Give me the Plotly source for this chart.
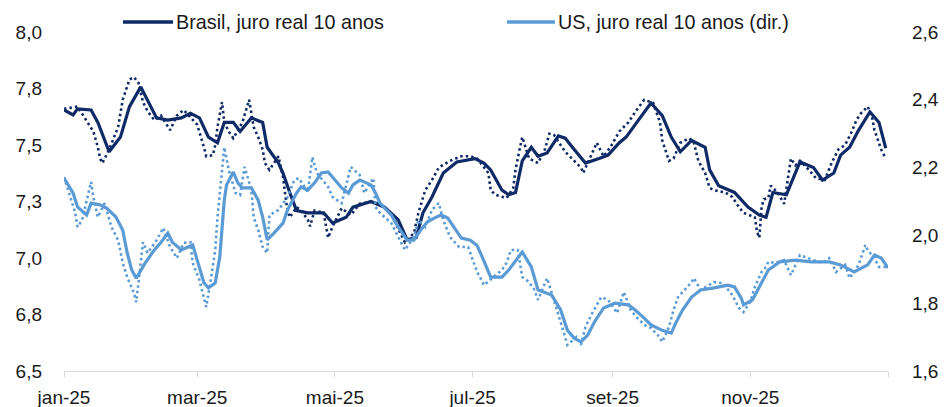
import pandas as pd
import plotly.graph_objects as go

# datas como dias corridos a partir de 01/01/2025
inicio = pd.Timestamp("2025-01-01")

# Brasil, juro real 10 anos - média (linha cheia)
br_media_dia = [0, 4, 6, 12, 15, 20, 25, 29, 34, 37, 41, 46, 52, 56, 60, 64, 68, 71, 75, 78,
                83, 88, 90, 95, 97, 100, 103, 108, 115, 119, 125, 128, 136, 142, 148, 152, 156, 159, 163, 168,
                174, 182, 186, 189, 194, 197, 200, 203, 207, 210, 214, 219, 222, 226, 231, 237, 241, 246, 249, 253,
                260, 265, 269, 273, 278, 284, 286, 290, 297, 303, 308, 311, 314, 320, 326, 332, 336, 341, 344, 348,
                352, 357, 361, 364]
br_media = [7.655, 7.633, 7.66, 7.655, 7.60, 7.47, 7.535, 7.67, 7.757, 7.70, 7.62, 7.61, 7.62, 7.64, 7.62, 7.535, 7.51, 7.60, 7.60, 7.56,
            7.62, 7.60, 7.49, 7.42, 7.376, 7.29, 7.21, 7.20, 7.20, 7.155, 7.18, 7.225, 7.25, 7.225, 7.17, 7.08, 7.09, 7.20, 7.27, 7.376,
            7.425, 7.44, 7.42, 7.39, 7.30, 7.28, 7.29, 7.43, 7.49, 7.45, 7.465, 7.54, 7.53, 7.48, 7.42, 7.44, 7.455, 7.51, 7.535, 7.59,
            7.686, 7.63, 7.535, 7.47, 7.52, 7.49, 7.39, 7.32, 7.29, 7.225, 7.19, 7.18, 7.29, 7.28, 7.425, 7.40, 7.345, 7.376, 7.455, 7.49,
            7.566, 7.646, 7.60, 7.486]

# Brasil - dado diário (pontilhado)
br_diario_dia = [0, 6, 13, 15, 16, 17, 20, 24, 26, 29, 31, 33, 35, 37, 40, 43, 47, 50, 53, 57,
                 59, 62, 63, 66, 67, 68, 70, 71, 73, 75, 77, 79, 82, 84, 86, 88, 89, 91, 95, 97,
                 98, 99, 100, 103, 105, 108, 109, 111, 115, 117, 119, 123, 127, 131, 137, 142, 146, 148, 151, 155,
                 157, 159, 160, 163, 166, 171, 176, 180, 183, 188, 189, 191, 196, 199, 200, 202, 203, 206, 210, 213,
                 215, 217, 222, 226, 229, 230, 234, 236, 239, 242, 246, 249, 250, 253, 257, 261, 264, 265, 268, 270,
                 273, 277, 279, 281, 284, 286, 288, 293, 296, 299, 301, 306, 307, 308, 309, 310, 312, 313, 316, 319,
                 321, 322, 324, 326, 330, 333, 337, 340, 343, 346, 349, 351, 353, 356, 358, 359, 362, 364]
br_diario = [7.66, 7.67, 7.56, 7.49, 7.44, 7.42, 7.48, 7.58, 7.70, 7.79, 7.80, 7.775, 7.69, 7.65, 7.61, 7.63, 7.566, 7.63, 7.655, 7.61,
             7.59, 7.49, 7.45, 7.455, 7.50, 7.58, 7.69, 7.60, 7.56, 7.53, 7.566, 7.60, 7.70, 7.58, 7.535, 7.48, 7.42, 7.39, 7.45, 7.36,
             7.28, 7.21, 7.18, 7.225, 7.21, 7.17, 7.14, 7.21, 7.20, 7.09, 7.14, 7.22, 7.19, 7.24, 7.25, 7.225, 7.18, 7.13, 7.07, 7.11,
             7.20, 7.26, 7.30, 7.345, 7.40, 7.43, 7.45, 7.45, 7.44, 7.376, 7.30, 7.28, 7.265, 7.31, 7.39, 7.49, 7.535, 7.44, 7.42, 7.48,
             7.55, 7.545, 7.47, 7.43, 7.40, 7.376, 7.465, 7.51, 7.45, 7.49, 7.56, 7.59, 7.60, 7.646, 7.70, 7.686, 7.60, 7.52, 7.43, 7.44,
             7.51, 7.53, 7.51, 7.43, 7.376, 7.31, 7.30, 7.29, 7.27, 7.225, 7.20, 7.18, 7.115, 7.09, 7.225, 7.26, 7.265, 7.32, 7.29, 7.24,
             7.38, 7.44, 7.41, 7.43, 7.39, 7.354, 7.345, 7.42, 7.48, 7.50, 7.56, 7.61, 7.64, 7.67, 7.62, 7.566, 7.48, 7.44]

# US, juro real 10 anos (eixo dir.) - média
us_media_dia = [0, 4, 6, 10, 12, 16, 19, 23, 26, 28, 30, 32, 36, 40, 43, 46, 48, 52, 55, 57,
                59, 62, 64, 67, 69, 71, 72, 75, 77, 79, 83, 86, 88, 90, 93, 97, 99, 103, 105, 108,
                111, 114, 117, 120, 123, 126, 128, 131, 136, 138, 140, 145, 148, 152, 155, 158, 161, 164, 167, 170,
                173, 176, 180, 183, 186, 189, 194, 197, 203, 207, 210, 216, 220, 223, 226, 229, 232, 235, 239, 244,
                250, 253, 257, 260, 265, 269, 271, 274, 278, 282, 288, 294, 297, 300, 301, 305, 308, 312, 317, 324,
                331, 339, 344, 350, 356, 359, 362, 365]
us_media = [2.169, 2.125, 2.084, 2.06, 2.095, 2.09, 2.08, 2.054, 2.016, 1.948, 1.898, 1.874, 1.919, 1.957, 1.98, 2.007, 1.98, 1.957, 1.966, 1.972,
            1.927, 1.86, 1.845, 1.86, 1.936, 2.104, 2.149, 2.187, 2.155, 2.14, 2.14, 2.104, 2.054, 1.987, 2.007, 2.036, 2.075, 2.125, 2.143, 2.134,
            2.155, 2.184, 2.187, 2.163, 2.14, 2.125, 2.149, 2.163, 2.149, 2.125, 2.095, 2.06, 2.025, 1.986, 1.986, 2.016, 2.04, 2.051, 2.06, 2.051,
            2.022, 1.992, 1.986, 1.970, 1.925, 1.877, 1.877, 1.898, 1.951, 1.907, 1.839, 1.824, 1.78, 1.72, 1.697, 1.686, 1.706, 1.745, 1.786, 1.80,
            1.795, 1.78, 1.756, 1.736, 1.72, 1.712, 1.742, 1.78, 1.818, 1.839, 1.845, 1.853, 1.848, 1.815, 1.795, 1.81, 1.848, 1.898, 1.922, 1.927,
            1.922, 1.922, 1.913, 1.892, 1.913, 1.942, 1.933, 1.904]

# US - dado diário
us_diario_dia = [0, 5, 6, 8, 12, 13, 15, 18, 21, 24, 26, 28, 31, 32, 34, 35, 37, 41, 44, 47,
                 50, 53, 56, 57, 60, 63, 65, 67, 68, 70, 71, 73, 76, 78, 80, 83, 84, 86, 88, 90,
                 91, 95, 97, 99, 102, 104, 108, 110, 112, 117, 119, 123, 127, 131, 133, 137, 138, 140, 145, 148,
                 151, 155, 157, 160, 163, 166, 168, 171, 175, 179, 181, 183, 185, 186, 189, 194, 196, 198, 201, 203,
                 205, 208, 210, 214, 217, 219, 221, 223, 227, 229, 231, 234, 238, 241, 245, 248, 251, 254, 257, 260,
                 263, 265, 268, 270, 272, 278, 279, 282, 288, 292, 296, 299, 301, 304, 306, 309, 311, 312, 315, 319,
                 322, 326, 332, 336, 339, 342, 346, 348, 352, 355, 356, 359, 361, 364]
us_diario = [2.172, 2.066, 2.025, 2.045, 2.158, 2.113, 2.054, 2.095, 2.025, 1.986, 1.919, 1.877, 1.83, 1.803, 1.919, 1.98, 1.948, 1.986, 2.022, 1.966,
             1.933, 1.978, 1.98, 1.919, 1.868, 1.789, 1.868, 1.957, 2.054, 2.184, 2.26, 2.193, 2.125, 2.119, 2.202, 2.134, 2.054, 2.016, 1.966, 1.948,
             2.06, 2.075, 2.095, 2.113, 2.163, 2.169, 2.128, 2.231, 2.184, 2.143, 2.113, 2.095, 2.202, 2.178, 2.125, 2.169, 2.084, 2.066, 2.036, 1.995,
             1.957, 1.995, 2.045, 2.025, 2.075, 2.095, 2.045, 1.995, 1.966, 1.966, 1.93, 1.892, 1.868, 1.853, 1.87, 1.898, 1.919, 1.957, 1.957, 1.877,
             1.868, 1.845, 1.81, 1.874, 1.81, 1.765, 1.72, 1.677, 1.70, 1.677, 1.73, 1.771, 1.818, 1.81, 1.771, 1.833, 1.78, 1.756, 1.736, 1.727,
             1.706, 1.686, 1.73, 1.78, 1.818, 1.862, 1.874, 1.839, 1.862, 1.859, 1.824, 1.786, 1.774, 1.804, 1.848, 1.892, 1.907, 1.922, 1.919, 1.927,
             1.883, 1.942, 1.927, 1.919, 1.933, 1.892, 1.913, 1.874, 1.913, 1.972, 1.957, 1.933, 1.907, 1.907]

# eixos
x_ticks = ["2025-01-01", "2025-03-01", "2025-05-01", "2025-07-01", "2025-09-01", "2025-11-01", "2026-01-01"]
x_labels = ["jan-25", "mar-25", "mai-25", "jul-25", "set-25", "nov-25", ""]
y_ticks = [6.5, 6.75, 7.0, 7.25, 7.5, 7.75, 8.0]
y_labels = ["6,5", "6,8", "7,0", "7,3", "7,5", "7,8", "8,0"]
y2_ticks = [1.6, 1.8, 2.0, 2.2, 2.4, 2.6]
y2_labels = ["1,6", "1,8", "2,0", "2,2", "2,4", "2,6"]

AZUL_ESCURO = "#0F2A66"
AZUL_CLARO = "#5B9BD5"
CINZA = "#D9D9D9"
TEXTO = "#1A1A1A"


def datas(dias):
    return inicio + pd.to_timedelta(dias, unit="D")


fig = go.Figure()
fig.add_trace(go.Scatter(x=datas(br_diario_dia), y=br_diario, mode="lines", yaxis="y",
                         line=dict(color=AZUL_ESCURO, width=2.6, dash="2.5px,3px")))
fig.add_trace(go.Scatter(x=datas(br_media_dia), y=br_media, mode="lines", yaxis="y",
                         line=dict(color=AZUL_ESCURO, width=3.2)))
fig.add_trace(go.Scatter(x=datas(us_diario_dia), y=us_diario, mode="lines", yaxis="y2",
                         line=dict(color=AZUL_CLARO, width=2.6, dash="2.5px,3px")))
fig.add_trace(go.Scatter(x=datas(us_media_dia), y=us_media, mode="lines", yaxis="y2",
                         line=dict(color=AZUL_CLARO, width=3.2)))

# legenda manual (linha + texto)
legenda = [
    (0.0716, 0.1323, AZUL_ESCURO, "Brasil, juro real 10 anos"),
    (0.5376, 0.5959, AZUL_CLARO, "US, juro real 10 anos (dir.)"),
]
for x0, x1, cor, nome in legenda:
    fig.add_shape(type="line", xref="paper", yref="paper", x0=x0, x1=x1, y0=1.0295, y1=1.0295,
                  line=dict(color=cor, width=3.5))
    fig.add_annotation(xref="paper", yref="paper", x=x1 + 0.001, y=1.0295, text=nome,
                       showarrow=False, xanchor="left", yanchor="middle",
                       font=dict(size=19.8, color=TEXTO))

fig.update_layout(
    width=944, height=407,
    margin=dict(l=64, r=56, t=32, b=36, autoexpand=False),
    plot_bgcolor="white", paper_bgcolor="white",
    font=dict(family="Liberation Sans, Arial", size=19, color=TEXTO),
    showlegend=False,
    xaxis=dict(
        type="date", automargin=False,
        range=["2025-01-01", "2026-01-01"],
        tickmode="array", tickvals=x_ticks, ticktext=x_labels,
        showline=True, linecolor=CINZA, linewidth=1,
        ticks="outside", ticklen=5, tickcolor=CINZA,
        showgrid=False, zeroline=False,
        ticklabelstandoff=4,
    ),
    yaxis=dict(
        automargin=False,
        range=[6.5, 8.0],
        tickmode="array", tickvals=y_ticks, ticktext=y_labels,
        showgrid=False, zeroline=False, showline=False,
        ticklabelstandoff=21,
    ),
    yaxis2=dict(
        overlaying="y", side="right", automargin=False,
        range=[1.6, 2.6],
        tickmode="array", tickvals=y2_ticks, ticktext=y2_labels,
        showgrid=False, zeroline=False, showline=False,
        ticklabelstandoff=23,
    ),
)

# tira a margem padrão da página para o gráfico ocupar a janela toda
fig.write_html("out.html", config={"displayModeBar": False},
               post_script="document.body.style.margin = '0'; document.body.style.overflow = 'hidden';")
